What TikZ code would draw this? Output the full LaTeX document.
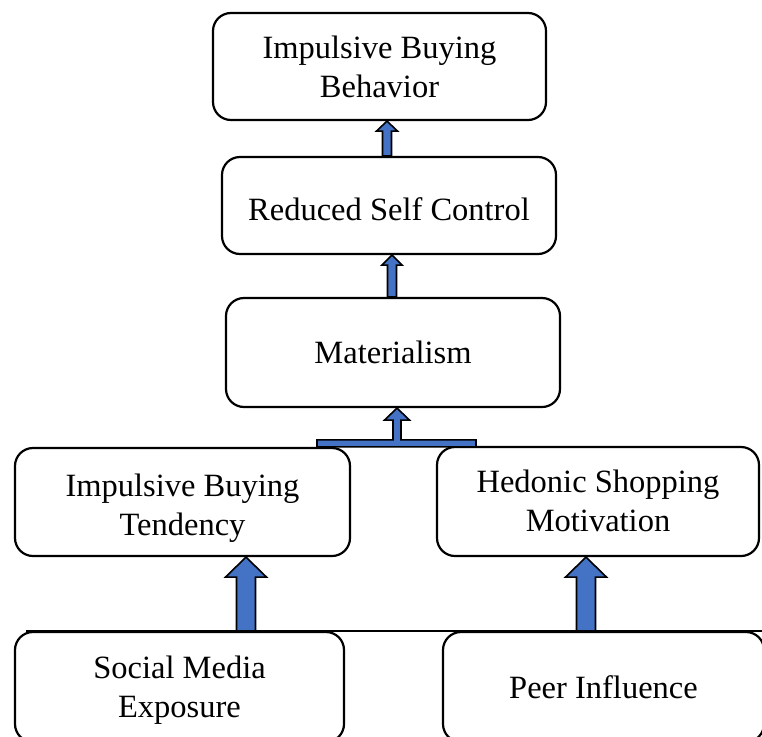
\documentclass[tikz,border=0pt]{standalone}
\usepackage{fontspec}
\setmainfont{Liberation Serif}
\usetikzlibrary{calc}
\definecolor{arrblue}{HTML}{4472C4}
\newcommand\blockup[6]{% #1 x, #2 lower node, #3 upper node, #4 shaft half, #5 head half, #6 head length
  \draw[barrow] ($(#1,0 |- #2.north)+(-#4,0)$) -- ($(#1,0 |- #3.south)+(-#4,#6)$)
    -- ($(#1,0 |- #3.south)+(-#5,#6)$) -- (#1,0 |- #3.south)
    -- ($(#1,0 |- #3.south)+(#5,#6)$) -- ($(#1,0 |- #3.south)+(#4,#6)$)
    -- ($(#1,0 |- #2.north)+(#4,0)$) -- cycle;}
\newcommand\lowered[2]{\raisebox{-#1}[\height][\depth]{\begin{tabular}{@{}c@{}}#2\end{tabular}}}
\begin{document}
\begin{tikzpicture}[x=1pt,y=-1pt,
  box/.style={draw, line width=2.2pt, rounded corners=18pt, align=center,
    font=\fontsize{32.5}{39}\selectfont, inner sep=0pt},
  barrow/.style={draw, fill=arrblue, line width=1.6pt, line join=miter}]
\useasboundingbox (0,0) rectangle (762,736);
\clip (0,0) rectangle (762,736);
\fill[white] (0,0) rectangle (762,736);

\node[box, minimum width=333pt, minimum height=107pt] (b1) at (379.5,66.5) {Impulsive Buying\\Behavior};
\node[box, minimum width=334pt, minimum height=97pt] (b2) at (389,205.5) {\lowered{7pt}{Reduced Self Control}};
\node[box, minimum width=334pt, minimum height=109pt] (b3) at (393,352.5) {Materialism};
\node[box, minimum width=335pt, minimum height=108pt] (b4) at (182.5,502) {\lowered{6pt}{Impulsive Buying\\Tendency}};
\node[box, minimum width=322pt, minimum height=109pt] (b5) at (598,501.5) {\lowered{3pt}{Hedonic Shopping\\Motivation}};
\node[box, minimum width=329pt, minimum height=110pt] (b6) at (179.5,687) {\lowered{3pt}{Social Media\\Exposure}};
\node[box, minimum width=321pt, minimum height=110pt] (b7) at (603.5,687) {Peer Influence};

\coordinate (la) at (26,631);
\coordinate (lb) at (762,631);
\draw[line width=2.2pt] (la) -- (lb);

\blockup{387}{b2}{b1}{4.5}{10.5}{10}
\blockup{392}{b3}{b2}{4.5}{10}{10}
\blockup{246}{b6}{b4}{9.5}{20.5}{20}
\blockup{586}{b7}{b5}{9.5}{20.5}{20}

% T-shaped joint arrow
\draw[barrow] (317,0 |- b4.north) -- ($(317,0 |- b4.north)+(0,-7)$)
  -- ($(393,0 |- b4.north)+(0,-7)$) -- ($(393,0 |- b3.south)+(0,12)$)
  -- ($(384.5,0 |- b3.south)+(0,12)$) -- (397,0 |- b3.south)
  -- ($(409.5,0 |- b3.south)+(0,12)$) -- ($(401,0 |- b3.south)+(0,12)$)
  -- ($(401,0 |- b4.north)+(0,-7)$) -- ($(476,0 |- b4.north)+(0,-7)$)
  -- (476,0 |- b4.north) -- cycle;
\end{tikzpicture}
\end{document}
